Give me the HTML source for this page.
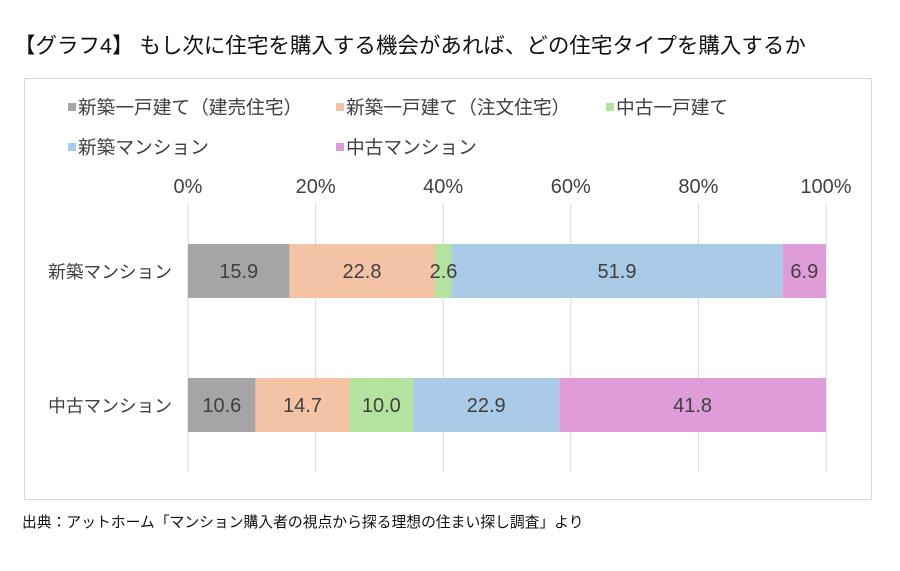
<!DOCTYPE html>
<html><head><meta charset="utf-8"><style>
html,body{margin:0;padding:0;background:#fff;}
svg{display:block;font-family:"Liberation Sans","Noto Sans CJK JP",sans-serif;}
</style></head><body>
<svg width="900" height="571" viewBox="0 0 900 571" xmlns="http://www.w3.org/2000/svg">
<rect width="900" height="571" fill="#fff"/>
<text x="14" y="53" font-size="21.5" fill="#111">【グラフ4】 もし次に住宅を購入する機会があれば、どの住宅タイプを購入するか</text>
<rect x="24.5" y="78.5" width="847" height="421" fill="#fff" stroke="#d9d9d9"/>
<g font-size="18.7" fill="#404040">
<rect x="68" y="103" width="8" height="8" fill="#a5a5a5"/><text x="78" y="114">新築一戸建て（建売住宅）</text>
<rect x="336" y="103" width="8" height="8" fill="#f4c3a5"/><text x="346" y="114">新築一戸建て（注文住宅）</text>
<rect x="606" y="103" width="8" height="8" fill="#b4e3a0"/><text x="616" y="114">中古一戸建て</text>
<rect x="68" y="143" width="8" height="8" fill="#a9cbe8"/><text x="78" y="154">新築マンション</text>
<rect x="336" y="143" width="8" height="8" fill="#e09cd9"/><text x="346" y="154">中古マンション</text>
</g>
<g font-size="20" fill="#404040" text-anchor="middle">
<text x="188" y="193">0%</text><text x="315.6" y="193">20%</text><text x="443.2" y="193">40%</text>
<text x="570.8" y="193">60%</text><text x="698.4" y="193">80%</text><text x="826" y="193">100%</text>
</g>
<g stroke="#d9d9d9" stroke-width="1">
<line x1="188" y1="204" x2="188" y2="472"/><line x1="315.6" y1="204" x2="315.6" y2="472"/>
<line x1="443.2" y1="204" x2="443.2" y2="472"/><line x1="570.8" y1="204" x2="570.8" y2="472"/>
<line x1="698.4" y1="204" x2="698.4" y2="472"/><line x1="826" y1="204" x2="826" y2="472"/>
</g>
<rect x="188" y="244" width="101.4" height="54" fill="#a5a5a5"/>
<rect x="289.4" y="244" width="145.5" height="54" fill="#f4c3a5"/>
<rect x="434.9" y="244" width="16.6" height="54" fill="#b4e3a0"/>
<rect x="451.5" y="244" width="331.1" height="54" fill="#a9cbe8"/>
<rect x="782.6" y="244" width="43.4" height="54" fill="#e09cd9"/>
<rect x="188" y="378" width="67.6" height="54" fill="#a5a5a5"/>
<rect x="255.6" y="378" width="93.8" height="54" fill="#f4c3a5"/>
<rect x="349.4" y="378" width="63.8" height="54" fill="#b4e3a0"/>
<rect x="413.2" y="378" width="146.1" height="54" fill="#a9cbe8"/>
<rect x="559.3" y="378" width="266.7" height="54" fill="#e09cd9"/>
<g font-size="20" fill="#404040" text-anchor="middle">
<text x="238.7" y="278">15.9</text><text x="362" y="278">22.8</text><text x="443.5" y="278">2.6</text>
<text x="617" y="278">51.9</text><text x="804.3" y="278">6.9</text>
<text x="221.8" y="412">10.6</text><text x="302.5" y="412">14.7</text><text x="381.3" y="412">10.0</text>
<text x="486.2" y="412">22.9</text><text x="692.6" y="412">41.8</text>
</g>
<g font-size="17.7" fill="#404040" text-anchor="end">
<text x="172" y="278">新築マンション</text><text x="172" y="412">中古マンション</text>
</g>
<text x="22" y="527" font-size="14.8" fill="#111">出典：アットホーム「マンション購入者の視点から探る理想の住まい探し調査」より</text>
</svg>
</body></html>
